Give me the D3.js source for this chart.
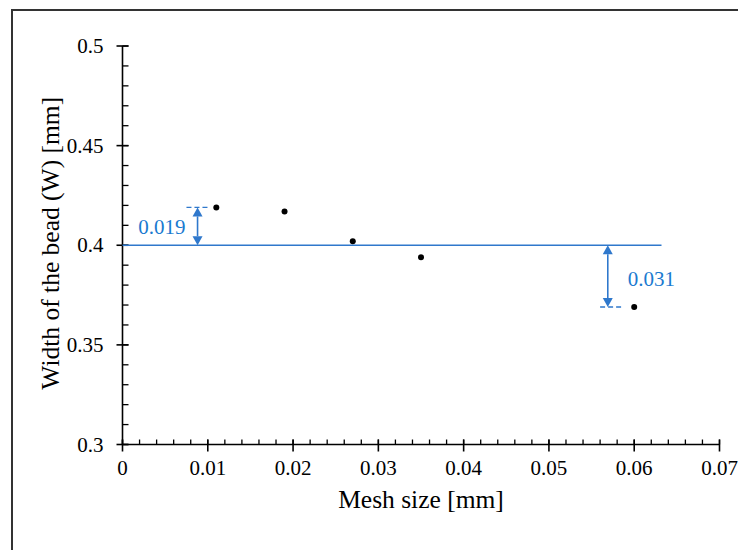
<!DOCTYPE html>
<html>
<head>
<meta charset="utf-8">
<script src="https://cdn.jsdelivr.net/npm/d3@7"></script>
<style>
  html, body { margin: 0; padding: 0; background: #fff; }
  svg { display: block; }
  text { font-family: "Liberation Serif", "Times New Roman", serif; }
</style>
</head>
<body>
<svg id="chart" width="738" height="550"></svg>
<script>
// Bead width measured for each mesh size
const meshSize  = [0.011, 0.019, 0.027, 0.035, 0.06];
const beadWidth = [0.419, 0.417, 0.402, 0.394, 0.369];

// Reference width line
const referenceWidth = 0.4;
const referenceEnd = 0.0632;

// Deviation annotations (largest positive / negative)
const devX      = [0.0088, 0.0569];
const devValue  = [0.419, 0.369];
const devLabel  = ["0.019", "0.031"];
const devDashX0 = [0.0075, 0.0560];
const devDashX1 = [0.0101, 0.0585];

// Axis ticks
const xTicks = [0, 0.01, 0.02, 0.03, 0.04, 0.05, 0.06, 0.07];
const yTicks = [0.3, 0.35, 0.4, 0.45, 0.5];

const svg = d3.select("#chart");
const blue = "#2f78cc";
const blueText = "#1a7ad0";

// Frame
svg.append("rect")
  .attr("x", 12).attr("y", 10)
  .attr("width", 740).attr("height", 560)
  .attr("fill", "none").attr("stroke", "#333").attr("stroke-width", 2);

const x = d3.scaleLinear().domain([0, 0.07]).range([122.5, 719.5]);
const y = d3.scaleLinear().domain([0.3, 0.5]).range([444.5, 46]);

const axisColor = "#000";

// X axis: minor ticks (inside) then major ticks crossing the line
const xMinor = d3.range(0, 0.0701, 0.002);
const gx = svg.append("g");
gx.append("line")
  .attr("x1", x(0)).attr("x2", x(0.07))
  .attr("y1", y(0.3)).attr("y2", y(0.3))
  .attr("stroke", axisColor).attr("stroke-width", 1.6);
gx.selectAll("line.minor").data(xMinor).join("line")
  .attr("class", "minor")
  .attr("x1", d => x(d)).attr("x2", d => x(d))
  .attr("y1", y(0.3)).attr("y2", y(0.3) - 5)
  .attr("stroke", axisColor).attr("stroke-width", 1.3);
gx.selectAll("line.major").data(xTicks).join("line")
  .attr("class", "major")
  .attr("x1", d => x(d)).attr("x2", d => x(d))
  .attr("y1", y(0.3) - 5).attr("y2", y(0.3) + 7)
  .attr("stroke", axisColor).attr("stroke-width", 1.6);
gx.selectAll("text").data(xTicks).join("text")
  .attr("x", d => x(d)).attr("y", y(0.3) + 30)
  .attr("text-anchor", "middle")
  .attr("font-size", 21)
  .text(d => d === 0 ? "0" : d3.format(".2f")(d));

// Y axis
const yMinor = d3.range(0.3, 0.5001, 0.01);
const gy = svg.append("g");
gy.append("line")
  .attr("x1", x(0)).attr("x2", x(0))
  .attr("y1", y(0.3)).attr("y2", y(0.5))
  .attr("stroke", axisColor).attr("stroke-width", 1.6);
gy.selectAll("line.minor").data(yMinor).join("line")
  .attr("class", "minor")
  .attr("x1", x(0)).attr("x2", x(0) + 6)
  .attr("y1", d => y(d)).attr("y2", d => y(d))
  .attr("stroke", axisColor).attr("stroke-width", 1.3);
gy.selectAll("line.major").data(yTicks).join("line")
  .attr("class", "major")
  .attr("x1", x(0) - 6).attr("x2", x(0) + 6)
  .attr("y1", d => y(d)).attr("y2", d => y(d))
  .attr("stroke", axisColor).attr("stroke-width", 1.6);
gy.selectAll("text").data(yTicks).join("text")
  .attr("x", x(0) - 19).attr("y", d => y(d) + 7)
  .attr("text-anchor", "end")
  .attr("font-size", 21)
  .text(d => d3.format("")(+d.toFixed(2)));

// Axis titles
svg.append("text")
  .attr("x", (x(0) + x(0.07)) / 2).attr("y", 508)
  .attr("text-anchor", "middle")
  .attr("font-size", 25.5)
  .text("Mesh size [mm]");
svg.append("text")
  .attr("transform", `translate(59, ${(y(0.3) + y(0.5)) / 2 - 2}) rotate(-90)`)
  .attr("text-anchor", "middle")
  .attr("font-size", 25.5)
  .text("Width of the bead (W) [mm]");

// Reference line
svg.append("line")
  .attr("x1", x(0)).attr("x2", x(referenceEnd))
  .attr("y1", y(referenceWidth)).attr("y2", y(referenceWidth))
  .attr("stroke", blue).attr("stroke-width", 1.6);

// Deviation annotations
const ann = svg.append("g");
devX.forEach((dx, i) => {
  const cx = x(dx);
  const y0 = y(referenceWidth), y1 = y(devValue[i]);
  const dir = y1 < y0 ? -1 : 1;   // -1: arrow goes up
  const head = 9, half = 5;
  // dashed level line
  ann.append("line")
    .attr("x1", x(devDashX0[i])).attr("x2", x(devDashX1[i]))
    .attr("y1", y1).attr("y2", y1)
    .attr("stroke", blue).attr("stroke-width", 1.3)
    .attr("stroke-dasharray", "5,3");
  // shaft
  ann.append("line")
    .attr("x1", cx).attr("x2", cx)
    .attr("y1", y0 + dir * head).attr("y2", y1 - dir * head)
    .attr("stroke", blue).attr("stroke-width", 1.6);
  // heads at both ends
  ann.append("path")
    .attr("d", `M${cx},${y1} L${cx - half},${y1 - dir * head} L${cx + half},${y1 - dir * head} Z`)
    .attr("fill", blue);
  ann.append("path")
    .attr("d", `M${cx},${y0} L${cx - half},${y0 + dir * head} L${cx + half},${y0 + dir * head} Z`)
    .attr("fill", blue);
});
ann.append("text")
  .attr("x", x(devX[0]) - 12).attr("y", (y(referenceWidth) + y(devValue[0])) / 2 + 8)
  .attr("text-anchor", "end")
  .attr("font-size", 21)
  .attr("fill", blueText)
  .text(devLabel[0]);
ann.append("text")
  .attr("x", x(devX[1]) + 20).attr("y", (y(referenceWidth) + y(devValue[1])) / 2 + 10)
  .attr("text-anchor", "start")
  .attr("font-size", 21)
  .attr("fill", blueText)
  .text(devLabel[1]);

// Data points
svg.append("g").selectAll("circle")
  .data(meshSize.map((m, i) => [m, beadWidth[i]]))
  .join("circle")
  .attr("cx", d => x(d[0])).attr("cy", d => y(d[1]))
  .attr("r", 3)
  .attr("fill", "#000");
</script>
</body>
</html>
